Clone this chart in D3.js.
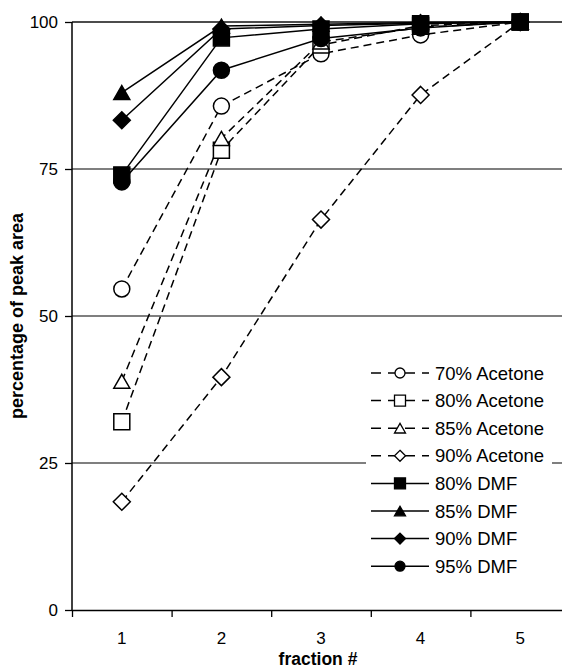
<!DOCTYPE html>
<html>
<head>
<meta charset="utf-8">
<script src="https://cdn.jsdelivr.net/npm/d3@7"></script>
<style>
  body { margin: 0; background: #fff; }
  svg { display: block; font-family: Arial, "Liberation Sans", sans-serif; }
</style>
</head>
<body>
<svg></svg>
<script>
let fractions = [1, 2, 3, 4, 5]
let yTicks = [0, 25, 50, 75, 100]

let seriesNames = ['70% Acetone', '80% Acetone', '85% Acetone', '90% Acetone',
                   '80% DMF', '85% DMF', '90% DMF', '95% DMF']

let acetone70 = [54.6, 85.7, 94.6, 97.8, 100]
let acetone80 = [32.0, 78.2, 96.1, 99.4, 100]
let acetone85 = [38.9, 80.2, 96.6, 99.1, 100]
let acetone90 = [18.4, 39.6, 66.4, 87.6, 100]
let dmf80 = [74.0, 97.3, 98.8, 99.7, 100]
let dmf85 = [88.0, 99.3, 99.6, 99.9, 100]
let dmf90 = [83.3, 98.8, 99.4, 99.8, 100]
let dmf95 = [72.8, 91.8, 97.2, 99.0, 100]

let seriesValues = [acetone70, acetone80, acetone85, acetone90, dmf80, dmf85, dmf90, dmf95]

let width = 562
let height = 670

let svg = d3.select('svg')
svg.attr('width', width).attr('height', height)

let xScale = d3.scaleBand()
               .domain(fractions)
               .range([72, 570])
let xEdge = d3.scaleLinear()
              .domain([0, 5])
              .range([72, 570])
let yScale = d3.scaleLinear()
               .domain([0, 100])
               .range([610, 22])

let xPos = (i) => xScale(fractions[i]) + xScale.bandwidth() / 2

// marker style for each series
let shapes = ['circle', 'square', 'triangle', 'diamond', 'square', 'triangle', 'diamond', 'circle']
let filled = [false, false, false, false, true, true, true, true]

let markerPath = (shape, s) => {
    // s = approx width of marker in px
    if (shape === 'circle') return d3.symbol(d3.symbolCircle, Math.PI * (s / 2) * (s / 2))()
    if (shape === 'square') return d3.symbol(d3.symbolSquare, s * s)()
    if (shape === 'triangle') {
        let h = s * 0.87
        return 'M0,' + (-h / 2) + 'L' + (s / 2) + ',' + (h / 2) + 'L' + (-s / 2) + ',' + (h / 2) + 'Z'
    }
    let r = s / 2
    return 'M0,' + (-r) + 'L' + r + ',0L0,' + r + 'L' + (-r) + ',0Z'
}

// gridlines
svg.append('g')
   .selectAll('line')
   .data(yTicks.filter(d => d > 0))
   .enter()
   .append('line')
   .attr('x1', 72)
   .attr('x2', width)
   .attr('y1', d => yScale(d))
   .attr('y2', d => yScale(d))
   .attr('stroke', d => d === 100 ? '#111' : '#555')
   .attr('stroke-width', 1.5)

// axes
let yAxis = d3.axisLeft(yScale)
              .tickValues(yTicks)
              .tickSize(7)
              .tickPadding(7)
let yG = svg.append('g')
            .attr('transform', 'translate(72, 0)')
            .call(yAxis)
yG.select('.domain').remove()
yG.append('line')
  .attr('x1', 0).attr('x2', 0)
  .attr('y1', yScale(100)).attr('y2', yScale(0))
  .attr('stroke', '#000').attr('stroke-width', 1.5)

let xTickAxis = d3.axisBottom(xEdge)
                  .tickValues([0, 1, 2, 3, 4])
                  .tickFormat('')
                  .tickSize(7)
                  .tickSizeOuter(0)
svg.append('g')
   .attr('transform', 'translate(0, 610)')
   .call(xTickAxis)

let xLabelAxis = d3.axisBottom(xScale)
                   .tickSize(0)
                   .tickPadding(22)
let xG = svg.append('g')
            .attr('transform', 'translate(0, 610)')
            .call(xLabelAxis)
xG.select('.domain').remove()

svg.selectAll('.tick line').attr('stroke', '#000').attr('stroke-width', 1.3)
svg.selectAll('.domain').attr('stroke', '#000').attr('stroke-width', 1.5)
svg.selectAll('.tick text')
   .attr('font-size', 17)
   .attr('fill', '#000')
   .style('font-family', 'Arial, "Liberation Sans", sans-serif')

// axis titles
svg.append('text')
   .attr('transform', 'translate(23, ' + yScale(50) + ') rotate(-90)')
   .attr('text-anchor', 'middle')
   .attr('font-size', 18)
   .attr('font-weight', 'bold')
   .text('percentage of peak area')

svg.append('text')
   .attr('x', 318)
   .attr('y', 665)
   .attr('text-anchor', 'middle')
   .attr('font-size', 17.5)
   .attr('font-weight', 'bold')
   .text('fraction #')

// series lines
let line = d3.line()
             .x((d, i) => xPos(i))
             .y(d => yScale(d))

seriesValues.forEach((vals, k) => {
    svg.append('path')
       .datum(vals)
       .attr('d', line)
       .attr('fill', 'none')
       .attr('stroke', '#000')
       .attr('stroke-width', 1.5)
       .attr('stroke-dasharray', filled[k] ? null : '8,5')
})

// markers
seriesValues.forEach((vals, k) => {
    let size = shapes[k] === 'diamond' ? 17 : 16
    svg.append('g')
       .selectAll('path')
       .data(vals)
       .enter()
       .append('path')
       .attr('d', markerPath(shapes[k], size))
       .attr('transform', (d, i) => 'translate(' + xPos(i) + ',' + yScale(d) + ')')
       .attr('fill', filled[k] ? '#000' : '#fff')
       .attr('stroke', '#000')
       .attr('stroke-width', 1.5)
})

// legend
let legendTop = 373
let legendStep = 27.6
svg.append('rect')
   .attr('x', 366)
   .attr('y', 356)
   .attr('width', 186)
   .attr('height', 226)
   .attr('fill', '#fff')

let legend = svg.append('g')
seriesNames.forEach((name, k) => {
    let y = legendTop + k * legendStep
    legend.append('line')
          .attr('x1', 371).attr('x2', 429)
          .attr('y1', y).attr('y2', y)
          .attr('stroke', '#000')
          .attr('stroke-width', 1.5)
          .attr('stroke-dasharray', filled[k] ? null : '10,7')
    legend.append('path')
          .attr('d', markerPath(shapes[k], shapes[k] === 'circle' ? 10 : 11))
          .attr('transform', 'translate(400,' + y + ')')
          .attr('fill', filled[k] ? '#000' : '#fff')
          .attr('stroke', '#000')
          .attr('stroke-width', 1.3)
    legend.append('text')
          .attr('x', 435)
          .attr('y', y + 6.5)
          .attr('font-size', 18.5)
          .text(name)
})
</script>
</body>
</html>
